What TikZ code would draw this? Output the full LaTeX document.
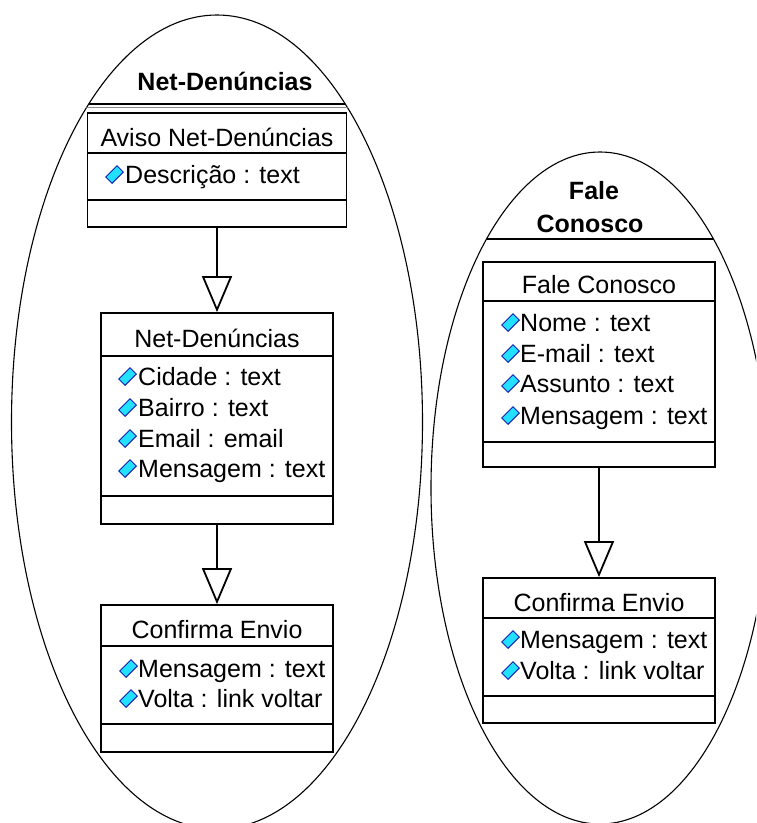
\documentclass[tikz,border=0pt]{standalone}
\usepackage{fontspec}
\setmainfont{Liberation Sans}
\usetikzlibrary{arrows.meta}

% one compartment line inside a class box, #2 pt below its top edge
\newcommand\compart[2]{%
  \draw[sepline] ([yshift=-#2pt]#1.north west) -- ([yshift=-#2pt]#1.north east);}
% one attribute: #1 name, #2 icon x, #3 text x, #4 baseline y, #5 text
\newcommand\attrib[5]{%
  \node[attr] (#1) at (#3,#4) {#5};
  \node[attricon] (#1-icon) at (#2,#4-8.5) {};}

\definecolor{iconfill}{HTML}{22E0FF}
\definecolor{iconedge}{HTML}{1020B0}

\tikzset{
  classbox/.style={draw=black, line width=1.8pt, inner sep=0pt},
  sepline/.style={line width=1.8pt},
  pkg/.style={line width=1.1pt},
  pkgsep/.style={line width=2pt},
  hdr/.style={font=\fontsize{25}{30}\selectfont, anchor=base, inner sep=0pt},
  pkgtitle/.style={font=\bfseries\fontsize{25}{30}\selectfont, anchor=base, inner sep=0pt},
  attr/.style={font=\fontsize{25}{30}\selectfont, anchor=base west, inner sep=0pt},
  attricon/.style={rectangle, rotate=45, minimum width=16pt, minimum height=9pt,
    inner sep=0pt, fill=iconfill, draw=iconedge, line width=0.9pt},
  gen/.style={line width=1.8pt, -{Triangle[open, length=36pt, width=30pt]}},
}

\begin{document}
\begin{tikzpicture}[x=1pt, y=-1pt]
\clip (0,0) rectangle (756,823);
\fill[white] (0,0) rectangle (756,823);

% package outlines
\draw[pkg] (217,422) ellipse [x radius=205.5pt, y radius=407pt];
\draw[pkg] (600,488) ellipse [x radius=169pt, y radius=336pt];

% package name compartments
\begin{scope}
  \clip (217,422) ellipse [x radius=205.5pt, y radius=407pt];
  \draw[pkgsep] (0,104) -- (440,104);
  \draw[line width=1pt, black!45] (0,107.5) -- (440,107.5);
\end{scope}
\begin{scope}
  \clip (600,488) ellipse [x radius=169pt, y radius=336pt];
  \draw[pkgsep] (420,239) -- (760,239);
\end{scope}

\node[pkgtitle] (pkgNet) at (225,90) {Net-Denúncias};
\node[pkgtitle] (pkgFaleA) at (594,199) {Fale};
\node[pkgtitle] (pkgFaleB) at (590,232) {Conosco};

% ---- Net-Denúncias classes
\node[classbox, minimum width=259pt, minimum height=114pt] (aviso) at (217,170) {};
\compart{aviso}{41}\compart{aviso}{88}
\node[hdr] (avisoT) at (217,146) {Aviso Net-Denúncias};
\attrib{avisoA1}{114.5}{125}{183}{Descrição : text}

\node[classbox, minimum width=232pt, minimum height=211pt] (netden) at (217,418.5) {};
\compart{netden}{44}\compart{netden}{184}
\node[hdr] (netdenT) at (217,347) {Net-Denúncias};
\attrib{netdenA1}{127.5}{138}{385}{Cidade : text}
\attrib{netdenA2}{127.5}{138}{416}{Bairro : text}
\attrib{netdenA3}{127.5}{138}{447}{Email : email}
\attrib{netdenA4}{127.5}{138}{477}{Mensagem : text}

\node[classbox, minimum width=232pt, minimum height=147pt] (confA) at (217,678.5) {};
\compart{confA}{42}\compart{confA}{120}
\node[hdr] (confAT) at (217,638) {Confirma Envio};
\attrib{confAA1}{128.5}{138}{677}{Mensagem : text}
\attrib{confAA2}{128.5}{138}{707}{Volta : link voltar}

\draw[gen] (aviso.south) -- (netden.north);
\draw[gen] (netden.south) -- (confA.north);

% ---- Fale Conosco classes
\node[classbox, minimum width=232pt, minimum height=205pt] (fale) at (599,364.5) {};
\compart{fale}{40}\compart{fale}{181}
\node[hdr] (faleT) at (599,293) {Fale Conosco};
\attrib{faleA1}{510.5}{520}{331}{Nome : text}
\attrib{faleA2}{510.5}{520}{362}{E-mail : text}
\attrib{faleA3}{510.5}{520}{392}{Assunto : text}
\attrib{faleA4}{510.5}{520}{424}{Mensagem : text}

\node[classbox, minimum width=232pt, minimum height=145pt] (confB) at (599,650.5) {};
\compart{confB}{41}\compart{confB}{119}
\node[hdr] (confBT) at (599,611) {Confirma Envio};
\attrib{confBA1}{510.5}{520}{648}{Mensagem : text}
\attrib{confBA2}{510.5}{520}{679}{Volta : link voltar}

\draw[gen] (fale.south) -- (confB.north);
\end{tikzpicture}
\end{document}
